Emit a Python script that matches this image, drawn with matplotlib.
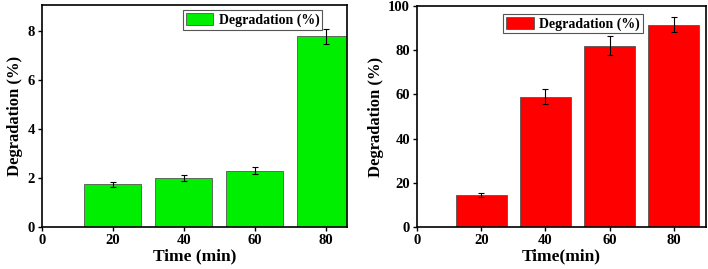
import matplotlib.pyplot as plt
import numpy as np

# data
time_min = [20, 40, 60, 80]
deg_left = [1.75, 2.0, 2.3, 7.78]
err_left = [0.10, 0.12, 0.15, 0.32]
deg_right = [14.5, 59.0, 82.0, 91.5]
err_right = [1.0, 3.5, 4.2, 3.5]

plt.rcParams['font.family'] = 'Liberation Serif'
plt.rcParams['font.weight'] = 'bold'

fig = plt.figure(figsize=(7.08, 2.69), dpi=100)
ax1 = fig.add_axes([0.059, 0.156, 0.431, 0.825])
ax2 = fig.add_axes([0.589, 0.156, 0.408, 0.822])


def draw(ax, y, yerr, color, xlim, ylim, yticks, xlabel, leg_anchor):
    ax.bar(time_min, y, width=16, color=color, edgecolor='#555555', linewidth=0.6,
           label='Degradation (%)', zorder=2)
    ax.errorbar(time_min, y, yerr=yerr, fmt='none', ecolor='black', elinewidth=0.8,
                capsize=2.5, capthick=0.8, zorder=3)
    ax.set_xlim(*xlim)
    ax.set_ylim(*ylim)
    ax.set_xticks([0, 20, 40, 60, 80])
    ax.set_yticks(yticks)
    ax.tick_params(direction='out', length=3, width=1, labelsize=10.5, pad=2)
    for lbl in ax.get_xticklabels() + ax.get_yticklabels():
        lbl.set_fontweight('bold')
    for s in ax.spines.values():
        s.set_linewidth(1.2)
    ax.set_xlabel(xlabel, fontsize=12.5, fontweight='bold', labelpad=1)
    ax.set_ylabel('Degradation (%)', fontsize=12, fontweight='bold', labelpad=3)
    leg = ax.legend(loc='upper left', bbox_to_anchor=leg_anchor, fontsize=10,
                    frameon=True, fancybox=False, framealpha=1,
                    edgecolor='#555555', handlelength=2.0, handleheight=0.95,
                    borderpad=0.2, handletextpad=0.4, borderaxespad=0)
    leg.get_frame().set_linewidth(0.8)


draw(ax1, deg_left, err_left, '#00ee00', (0, 86), (0, 9.06), [0, 2, 4, 6, 8],
     'Time (min)', (0.462, 0.977))
draw(ax2, deg_right, err_right, '#ff0000', (0, 90), (0, 100), [0, 20, 40, 60, 80, 100],
     'Time(min)', (0.298, 0.964))

fig.savefig('out.png', dpi=100)
